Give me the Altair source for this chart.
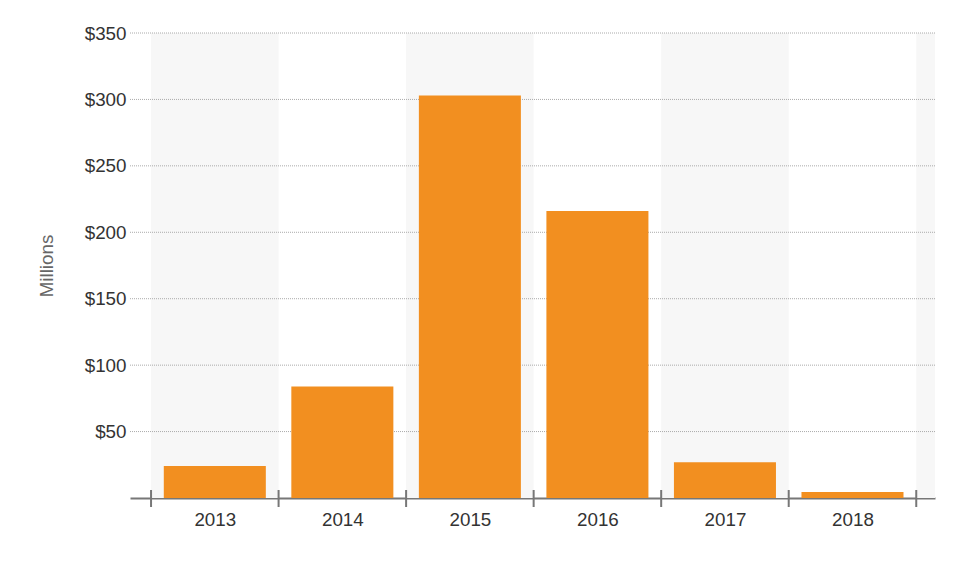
import altair as alt
import pandas as pd

years = [2013, 2014, 2015, 2016, 2017, 2018]
values = [24, 84, 303, 216, 27, 4.5]
y_ticks = [50, 100, 150, 200, 250, 300, 350]

X_MIN, X_MAX = 2012.335, 2018.647
FONT = "Liberation Sans"

bars = pd.DataFrame({"year": years, "value": values})
bars["x0"] = bars["year"] - 0.4
bars["x1"] = bars["year"] + 0.4

band_starts = [y - 0.5 for y in years[::2]] + [years[-1] + 0.5]
bands = pd.DataFrame({"x0": band_starts, "x1": [min(s + 1, X_MAX) for s in band_starts]})

bounds = pd.DataFrame({"b": [y - 0.5 for y in years] + [years[-1] + 0.5]})
grid = pd.DataFrame({"v": y_ticks})

xscale = alt.Scale(domain=[X_MIN, X_MAX], nice=False, zero=False, padding=0)
yscale = alt.Scale(domain=[0, 350], nice=False, padding=0)

x_axis = alt.Axis(
    values=years,
    format="d",
    grid=False,
    ticks=False,
    tickSize=0,
    domain=True,
    domainColor="#777777",
    domainWidth=2,
    labelPadding=12,
    labelFont=FONT,
    labelFontSize=18.8,
    labelColor="#333333",
    title=None,
)

y_axis = alt.Axis(
    values=y_ticks,
    labelExpr="'$' + datum.value",
    grid=False,
    ticks=False,
    tickSize=0,
    domain=False,
    labelPadding=4,
    labelFont=FONT,
    labelFontSize=18.8,
    labelColor="#333333",
    title="Millions",
    titleFont=FONT,
    titleFontSize=18.8,
    titleFontWeight="normal",
    titleColor="#666666",
    titlePadding=28,
)

band_layer = alt.Chart(bands).mark_rect(color="#f7f7f7").encode(
    x=alt.X("x0:Q", scale=xscale, axis=x_axis),
    x2="x1:Q",
    y=alt.value(0),
    y2=alt.value(465),
)

grid_layer = alt.Chart(grid).mark_rule(color="#aaaaaa", strokeDash=[1, 1], strokeWidth=1).encode(
    y=alt.Y("v:Q", scale=yscale, axis=y_axis),
    x=alt.value(0),
    x2=alt.value(805),
)

bar_layer = alt.Chart(bars).mark_bar(color="#F28F20").encode(
    x=alt.X("x0:Q", scale=xscale),
    x2="x1:Q",
    y=alt.Y("value:Q", scale=yscale),
    y2=alt.datum(0),
)

tick_layer = alt.Chart(bounds).mark_rule(color="#777777", strokeWidth=2).encode(
    x=alt.X("b:Q", scale=xscale),
    y=alt.value(457),
    y2=alt.value(474),
)

chart = (
    alt.layer(band_layer, grid_layer, bar_layer, tick_layer)
    .resolve_scale(x="shared", y="shared")
    .properties(
        width=805,
        height=465,
        autosize=alt.AutoSizeParams(type="none"),
        padding={"left": 122, "top": 25, "right": 22, "bottom": 70},
    )
    .configure_view(stroke=None)
)

chart.save("out.html", embed_options={"renderer": "svg", "actions": False})
